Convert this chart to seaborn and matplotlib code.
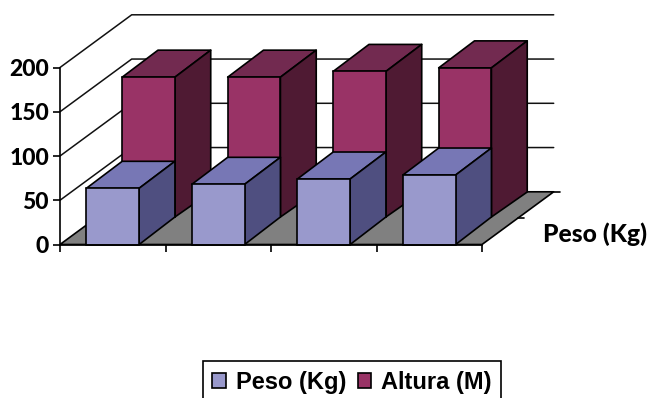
import pandas as pd
import numpy as np
import matplotlib.pyplot as plt
from matplotlib.patches import Polygon
import seaborn as sns

CATEGORIES = ['1', '2', '3', '4']
PESO = [63.5, 68, 74, 78.5]
ALTURA = [158, 158, 164.5, 168.5]
Y_TICKS = [0, 50, 100, 150, 200]

COLORS = {'Peso (Kg)': '#9999CC', 'Altura (M)': '#993366'}
TOPS = {'Peso (Kg)': '#7777B5', 'Altura (M)': '#722A50'}
SIDES = {'Peso (Kg)': '#4F4F80', 'Altura (M)': '#4F1A33'}

# pseudo 3D depth, in data units (1 category = 105.5 px, 200 = 177 px)
PX_Y = 200 / 177
DX = 35.8 / 105.5
BAR_DY = 27.5 * PX_Y
WALL_DX = 71.7 / 105.5
WALL_DY = 52.7 * PX_Y
LW = 1.2

sns.set_style('white')
plt.rcParams['font.family'] = ['Lato', 'DejaVu Sans']

df = pd.DataFrame({
    'cat': CATEGORIES * 2,
    'valor': PESO + ALTURA,
    'serie': ['Peso (Kg)'] * 4 + ['Altura (M)'] * 4,
})

fig = plt.figure(figsize=(6.52, 3.98), dpi=100)
ax = fig.add_axes([60 / 652, (398 - 244.5) / 398, 422 / 652, 177 / 398])
sns.barplot(data=df, x='cat', y='valor', hue='serie', palette=COLORS, dodge=False,
            width=0.5, saturation=1, edgecolor='black', linewidth=LW, ax=ax)
ax.set_xlim(-0.5, 3.5)
ax.set_ylim(0, 200)


def add_poly(points, color, z):
    ax.add_patch(Polygon(points, closed=True, facecolor=color, edgecolor='black',
                         linewidth=LW, zorder=z, clip_on=False, joinstyle='round'))


# back wall lines and floor
for t in Y_TICKS[1:]:
    ax.plot([-0.5, -0.5 + WALL_DX, 3.5 + WALL_DX], [t, t + WALL_DY, t + WALL_DY],
            color='#111111', lw=1.1, zorder=1, clip_on=False)
add_poly([(-0.5, 0), (3.5, 0), (3.5 + WALL_DX, WALL_DY), (-0.5 + WALL_DX, WALL_DY)], '#808080', 1.5)
for frac in [0.5, 1.0]:
    fx = 3.5 + WALL_DX * frac
    fy = WALL_DY * frac
    ax.plot([fx, fx + 0.06], [fy, fy], color='black', lw=LW, zorder=1.5, clip_on=False)

# boxes: the bars come from seaborn, tops and sides are added on them
for container, name, z in zip(ax.containers, ['Peso (Kg)', 'Altura (M)'], [3, 2]):
    shift_x = DX if name == 'Altura (M)' else 0
    shift_y = BAR_DY if name == 'Altura (M)' else 0
    foot = 25 * PX_Y if name == 'Altura (M)' else BAR_DY
    depth = 27 * PX_Y
    for bar in container:
        bar.set_x(bar.get_x() + shift_x)
        bar.set_y(shift_y)
        bar.set_zorder(z + 0.1)
        bar.set_clip_on(False)
        x0 = bar.get_x()
        x1 = x0 + bar.get_width()
        top = shift_y + bar.get_height()
        add_poly([(x0, top), (x1, top), (x1 + DX, top + depth), (x0 + DX, top + depth)], TOPS[name], z)
        add_poly([(x1, shift_y), (x1 + DX, shift_y + foot), (x1 + DX, top + depth), (x1, top)], SIDES[name], z)

ax.set_xticks(np.arange(5) - 0.5, labels=[''] * 5)
ax.set_yticks(Y_TICKS)
ax.set_xlabel('')
ax.set_ylabel('')
ax.tick_params(axis='both', length=5, width=LW, color='black', bottom=True, left=True, pad=3)
for label in ax.get_yticklabels():
    label.set_fontsize(16.5)
    label.set_fontweight('black')
    label.set_color('black')
for side in ['top', 'right']:
    ax.spines[side].set_visible(False)
for side in ['left', 'bottom']:
    ax.spines[side].set_color('black')
    ax.spines[side].set_linewidth(LW)
    ax.spines[side].set_zorder(4)

fig.text(543 / 652, 1 - 234 / 398, 'Peso (Kg)', fontsize=17.8, fontweight='black',
         color='black', ha='left', va='center')

handles, labels = ax.get_legend_handles_labels()
ax.get_legend().remove()
leg = fig.legend(handles, labels, ncol=2, loc='lower left',
                 bbox_to_anchor=(203 / 652, -5 / 398), bbox_transform=fig.transFigure,
                 frameon=True, fancybox=False, edgecolor='black', framealpha=1,
                 labelcolor='black',
                 prop={'family': 'Liberation Sans', 'weight': 'bold', 'size': 17},
                 handlelength=0.58, handleheight=0.58, handletextpad=0.4,
                 columnspacing=0.5, borderpad=0.4, borderaxespad=0)
leg.get_frame().set_linewidth(LW)

fig.savefig('out.png', dpi=100)
plt.close()
